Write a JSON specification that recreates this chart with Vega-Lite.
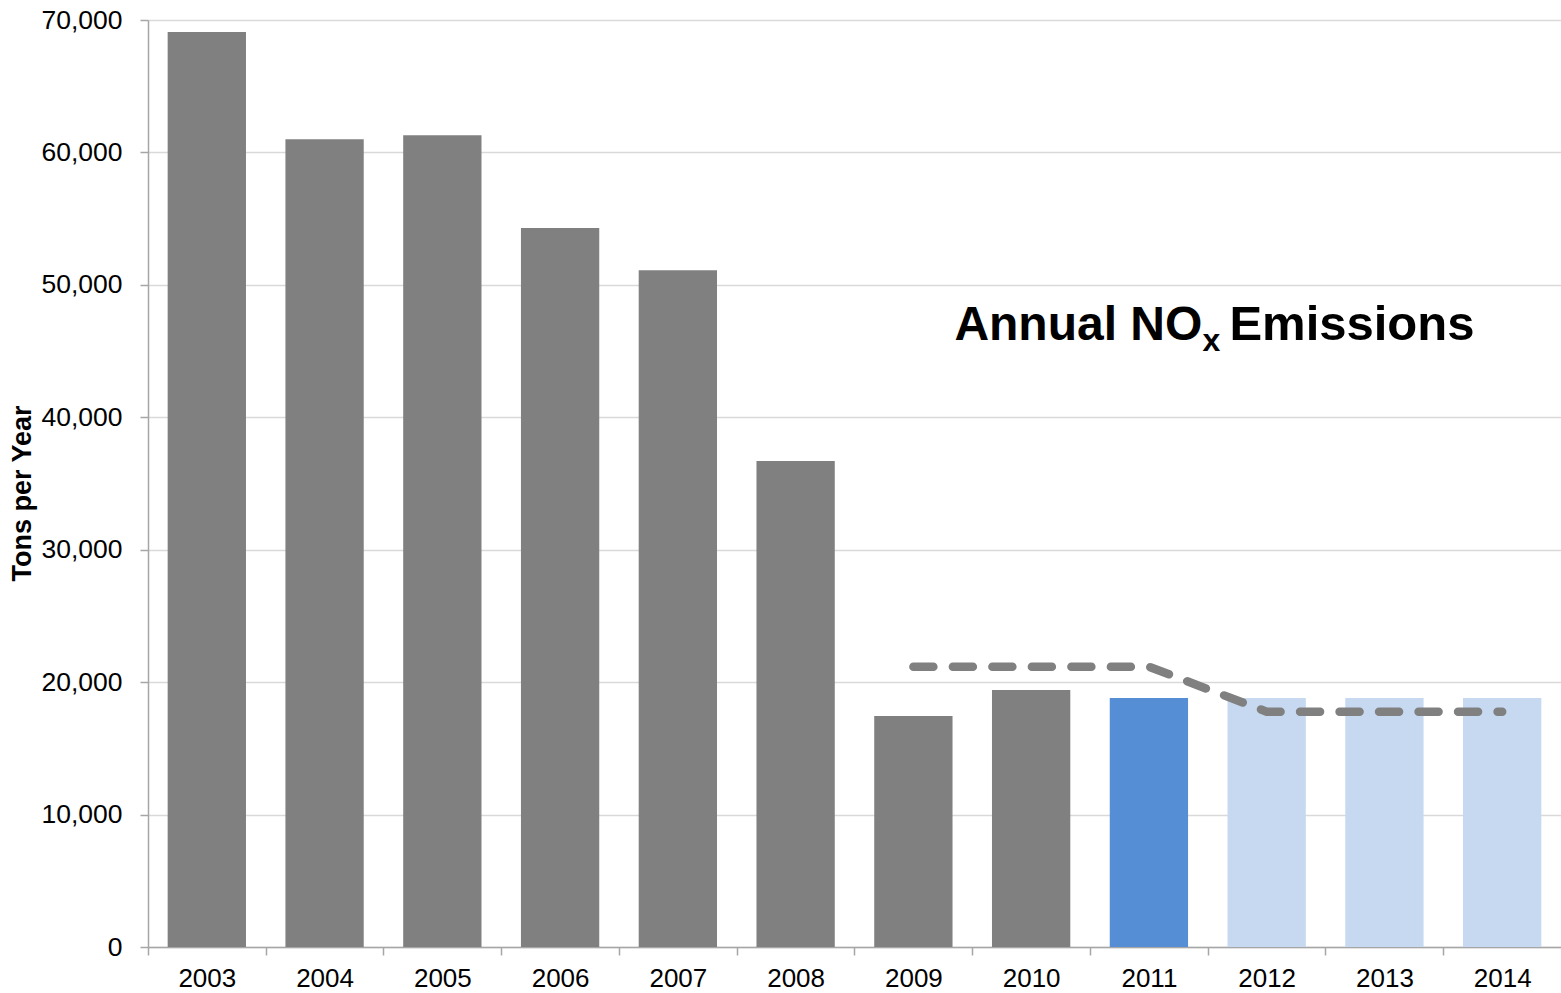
{
  "$schema": "https://vega.github.io/schema/vega-lite/v6.json",
  "width": 1413,
  "height": 927,
  "autosize": {"type": "none"},
  "padding": {"left": 148, "top": 20, "right": 0, "bottom": 46},
  "background": "white",
  "config": {
    "view": {"stroke": null},
    "font": "Liberation Sans",
    "axis": {
      "labelFont": "Liberation Sans",
      "titleFont": "Liberation Sans",
      "labelColor": "black",
      "titleColor": "black",
      "domainColor": "#a6a6a6",
      "tickColor": "#a6a6a6",
      "gridColor": "#d9d9d9",
      "gridWidth": 1.5
    }
  },
  "datasets": {
    "bars": [
      {"year": "2003", "value": 69100, "type": "Historical"},
      {"year": "2004", "value": 61000, "type": "Historical"},
      {"year": "2005", "value": 61300, "type": "Historical"},
      {"year": "2006", "value": 54300, "type": "Historical"},
      {"year": "2007", "value": 51100, "type": "Historical"},
      {"year": "2008", "value": 36700, "type": "Historical"},
      {"year": "2009", "value": 17450, "type": "Historical"},
      {"year": "2010", "value": 19400, "type": "Historical"},
      {"year": "2011", "value": 18800, "type": "Current"},
      {"year": "2012", "value": 18800, "type": "Projected"},
      {"year": "2013", "value": 18800, "type": "Projected"},
      {"year": "2014", "value": 18800, "type": "Projected"}
    ],
    "cap": [
      {"year": "2009", "cap": 21170},
      {"year": "2010", "cap": 21170},
      {"year": "2011", "cap": 21170},
      {"year": "2012", "cap": 17770},
      {"year": "2013", "cap": 17770},
      {"year": "2014", "cap": 17770}
    ],
    "label": [
      {"year": "2009", "value": 45760}
    ]
  },
  "encoding": {
    "x": {
      "field": "year",
      "type": "ordinal",
      "scale": {"paddingInner": 0.335, "paddingOuter": 0.167},
      "axis": {
        "title": null,
        "labelAngle": 0,
        "labelFontSize": 26,
        "labelPadding": 10,
        "tickOffset": -59,
        "labelOffset": 59,
        "tickSize": 8,
        "tickWidth": 1.5,
        "domainWidth": 1.5
      }
    }
  },
  "layer": [
    {
      "data": {"name": "bars"},
      "mark": {"type": "bar"},
      "encoding": {
        "y": {
          "field": "value",
          "type": "quantitative",
          "scale": {"domain": [0, 70000], "nice": false},
          "axis": {
            "title": "Tons per Year",
            "titleFontSize": 27,
            "titleFontWeight": "bold",
            "titlePadding": 4,
            "titleY": 473,
            "labelFontSize": 26.5,
            "labelPadding": 18,
            "format": ",d",
            "values": [0, 10000, 20000, 30000, 40000, 50000, 60000, 70000],
            "tickSize": 8,
            "tickWidth": 1.5,
            "domainWidth": 1.5
          }
        },
        "color": {
          "field": "type",
          "type": "nominal",
          "scale": {"domain": ["Historical", "Current", "Projected"], "range": ["#808080", "#558ed5", "#c6d9f1"]},
          "legend": null
        }
      }
    },
    {
      "data": {"name": "cap"},
      "mark": {"type": "line", "color": "#808080", "strokeWidth": 8.5, "strokeCap": "round", "strokeDash": [20, 19.5]},
      "encoding": {
        "y": {"field": "cap", "type": "quantitative"}
      }
    },
    {
      "data": {"name": "label"},
      "mark": {"type": "text", "text": "Annual NO", "align": "left", "baseline": "alphabetic", "fontSize": 48, "fontWeight": "bold", "color": "black", "dx": 41, "dy": -1},
      "encoding": {"y": {"field": "value", "type": "quantitative"}}
    },
    {
      "data": {"name": "label"},
      "mark": {"type": "text", "text": "x", "align": "left", "baseline": "alphabetic", "fontSize": 32, "fontWeight": "bold", "color": "black", "dx": 289, "dy": 10},
      "encoding": {"y": {"field": "value", "type": "quantitative"}}
    },
    {
      "data": {"name": "label"},
      "mark": {"type": "text", "text": "Emissions", "align": "left", "baseline": "alphabetic", "fontSize": 49, "fontWeight": "bold", "color": "black", "dx": 316, "dy": -1},
      "encoding": {"y": {"field": "value", "type": "quantitative"}}
    }
  ]
}
